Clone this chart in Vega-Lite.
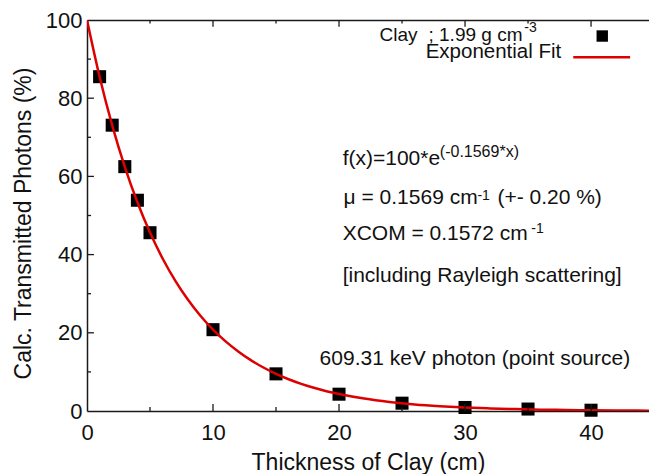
{
  "$schema": "https://vega.github.io/schema/vega-lite/v6.json",
  "width": 562,
  "height": 391,
  "autosize": {"type": "none"},
  "padding": {"left": 87, "top": 20, "right": 0, "bottom": 63},
  "background": "white",
  "config": {
    "view": {"stroke": null},
    "font": "Liberation Sans",
    "axis": {
      "domainColor": "#1a1a1a",
      "domainWidth": 1.5,
      "labelColor": "#111111",
      "titleColor": "#111111",
      "labelFont": "Liberation Sans",
      "titleFont": "Liberation Sans",
      "labelFontSize": 22,
      "titleFontSize": 23,
      "titleFontWeight": "normal",
      "grid": false
    }
  },
  "resolve": {"axis": {"x": "independent", "y": "independent"}},
  "datasets": {
    "fit": [
      {"thickness": 0, "transmitted": 100},
      {"thickness": 1, "transmitted": 85.48},
      {"thickness": 2, "transmitted": 73.07},
      {"thickness": 3, "transmitted": 62.46},
      {"thickness": 4, "transmitted": 53.39},
      {"thickness": 5, "transmitted": 45.63},
      {"thickness": 6, "transmitted": 39.01},
      {"thickness": 7, "transmitted": 33.34},
      {"thickness": 8, "transmitted": 28.5},
      {"thickness": 9, "transmitted": 24.36},
      {"thickness": 10, "transmitted": 20.82},
      {"thickness": 11, "transmitted": 17.8},
      {"thickness": 12, "transmitted": 15.22},
      {"thickness": 13, "transmitted": 13.01},
      {"thickness": 14, "transmitted": 11.12},
      {"thickness": 15, "transmitted": 9.5},
      {"thickness": 16, "transmitted": 8.12},
      {"thickness": 17, "transmitted": 6.94},
      {"thickness": 18, "transmitted": 5.94},
      {"thickness": 19, "transmitted": 5.07},
      {"thickness": 20, "transmitted": 4.34},
      {"thickness": 22, "transmitted": 3.17},
      {"thickness": 24, "transmitted": 2.32},
      {"thickness": 26, "transmitted": 1.69},
      {"thickness": 28, "transmitted": 1.24},
      {"thickness": 30, "transmitted": 0.9},
      {"thickness": 32, "transmitted": 0.66},
      {"thickness": 34, "transmitted": 0.48},
      {"thickness": 36, "transmitted": 0.35},
      {"thickness": 38, "transmitted": 0.26},
      {"thickness": 40, "transmitted": 0.19},
      {"thickness": 42, "transmitted": 0.14},
      {"thickness": 45, "transmitted": 0.09}
    ],
    "measured": [
      {"thickness": 1, "transmitted": 85.5},
      {"thickness": 2, "transmitted": 73.1},
      {"thickness": 3, "transmitted": 62.5},
      {"thickness": 4, "transmitted": 53.9},
      {"thickness": 5, "transmitted": 45.6},
      {"thickness": 10, "transmitted": 20.8},
      {"thickness": 15, "transmitted": 9.5},
      {"thickness": 20, "transmitted": 4.3},
      {"thickness": 25, "transmitted": 2.0},
      {"thickness": 30, "transmitted": 0.9},
      {"thickness": 35, "transmitted": 0.5},
      {"thickness": 40, "transmitted": 0.2}
    ],
    "xMajor": [{"at": 10}, {"at": 20}, {"at": 30}, {"at": 40}],
    "xMinor": [{"at": 5}, {"at": 15}, {"at": 25}, {"at": 35}],
    "yMajor": [{"at": 20}, {"at": 40}, {"at": 60}, {"at": 80}],
    "yMinor": [{"at": 10}, {"at": 30}, {"at": 50}, {"at": 70}, {"at": 90}],
    "annotMain": [
      {"x": 20.29, "y": 62.9, "label": "f(x)=100*e"},
      {"x": 20.36, "y": 52.9, "label": "μ = 0.1569 cm"},
      {"x": 32.57, "y": 52.9, "label": "(+- 0.20 %)"},
      {"x": 20.29, "y": 43.7, "label": "XCOM = 0.1572 cm"},
      {"x": 20.29, "y": 33.0, "label": "[including Rayleigh scattering]"},
      {"x": 18.46, "y": 11.8, "label": "609.31 keV photon (point source)"}
    ],
    "annotSupFormula": [
      {"x": 28.0, "y": 65.0, "label": "(-0.1569*x)"}
    ],
    "annotSupUnit": [
      {"x": 30.98, "y": 54.0, "label": "-1"},
      {"x": 35.26, "y": 45.5, "label": "-1"}
    ],
    "legendText": [
      {"x": 23.22, "y": 94.7, "label": "Clay"},
      {"x": 27.1, "y": 94.7, "label": "; 1.99 g cm"}
    ],
    "legendSup": [
      {"x": 34.7, "y": 97.0, "label": "-3"}
    ],
    "legendFitLabel": [
      {"x": 37.64, "y": 90.4, "label": "Exponential Fit"}
    ],
    "legendSymbol": [
      {"x": 40.89, "y": 95.9}
    ],
    "legendLine": [
      {"x": 38.59, "x2": 43.1, "y": 90.5}
    ]
  },
  "layer": [
    {
      "data": {"name": "measured"},
      "mark": {"type": "point", "shape": "square", "filled": true, "color": "#000000", "size": 170, "opacity": 1},
      "encoding": {
        "x": {
          "field": "thickness", "type": "quantitative",
          "scale": {"domain": [0, 44.6], "nice": false, "zero": false},
          "axis": {
            "orient": "bottom",
            "title": "Thickness of Clay (cm)",
            "titlePadding": 8,
            "values": [0, 10, 20, 30, 40],
            "domain": true,
            "ticks": false,
            "labelFlush": false,
            "labelPadding": 11
          }
        },
        "y": {
          "field": "transmitted", "type": "quantitative",
          "scale": {"domain": [0, 100], "nice": false},
          "axis": {
            "orient": "left",
            "title": "Calc. Transmitted Photons (%)",
            "titlePadding": 10,
            "titleY": 203,
            "values": [0, 20, 40, 60, 80, 100],
            "domain": true,
            "ticks": false,
            "labelFlush": false,
            "labelPadding": 5
          }
        }
      }
    },
    {
      "data": {"name": "fit"},
      "mark": {"type": "line", "color": "#dd0000", "strokeWidth": 2.5, "clip": true, "interpolate": "monotone"},
      "encoding": {
        "x": {
          "field": "thickness", "type": "quantitative",
          "axis": {"orient": "top", "labels": false, "ticks": false, "domain": true, "title": null}
        },
        "y": {"field": "transmitted", "type": "quantitative", "axis": null}
      }
    },
    {
      "data": {"name": "xMajor"},
      "mark": {"type": "rule", "color": "#1a1a1a", "strokeWidth": 1.3},
      "encoding": {
        "x": {"field": "at", "type": "quantitative", "axis": null},
        "y": {"datum": 0, "type": "quantitative", "axis": null},
        "y2": {"datum": 1.8}
      }
    },
    {
      "data": {"name": "xMinor"},
      "mark": {"type": "rule", "color": "#1a1a1a", "strokeWidth": 1.3},
      "encoding": {
        "x": {"field": "at", "type": "quantitative", "axis": null},
        "y": {"datum": 0, "type": "quantitative", "axis": null},
        "y2": {"datum": 1.0}
      }
    },
    {
      "data": {"name": "xMajor"},
      "mark": {"type": "rule", "color": "#1a1a1a", "strokeWidth": 1.3},
      "encoding": {
        "x": {"field": "at", "type": "quantitative", "axis": null},
        "y": {"datum": 100, "type": "quantitative", "axis": null},
        "y2": {"datum": 98.3}
      }
    },
    {
      "data": {"name": "xMinor"},
      "mark": {"type": "rule", "color": "#1a1a1a", "strokeWidth": 1.3},
      "encoding": {
        "x": {"field": "at", "type": "quantitative", "axis": null},
        "y": {"datum": 100, "type": "quantitative", "axis": null},
        "y2": {"datum": 99.1}
      }
    },
    {
      "data": {"name": "yMajor"},
      "mark": {"type": "rule", "color": "#1a1a1a", "strokeWidth": 1.3},
      "encoding": {
        "y": {"field": "at", "type": "quantitative", "axis": null},
        "x": {"datum": 0, "type": "quantitative", "axis": null},
        "x2": {"datum": 0.55}
      }
    },
    {
      "data": {"name": "yMinor"},
      "mark": {"type": "rule", "color": "#1a1a1a", "strokeWidth": 1.3},
      "encoding": {
        "y": {"field": "at", "type": "quantitative", "axis": null},
        "x": {"datum": 0, "type": "quantitative", "axis": null},
        "x2": {"datum": 0.32}
      }
    },
    {
      "data": {"name": "annotMain"},
      "mark": {"type": "text", "align": "left", "baseline": "alphabetic", "fontSize": 21, "color": "#111111"},
      "encoding": {
        "x": {"field": "x", "type": "quantitative", "axis": null},
        "y": {"field": "y", "type": "quantitative", "axis": null},
        "text": {"field": "label"}
      }
    },
    {
      "data": {"name": "annotSupFormula"},
      "mark": {"type": "text", "align": "left", "baseline": "alphabetic", "fontSize": 16, "color": "#111111"},
      "encoding": {
        "x": {"field": "x", "type": "quantitative", "axis": null},
        "y": {"field": "y", "type": "quantitative", "axis": null},
        "text": {"field": "label"}
      }
    },
    {
      "data": {"name": "annotSupUnit"},
      "mark": {"type": "text", "align": "left", "baseline": "alphabetic", "fontSize": 14, "color": "#111111"},
      "encoding": {
        "x": {"field": "x", "type": "quantitative", "axis": null},
        "y": {"field": "y", "type": "quantitative", "axis": null},
        "text": {"field": "label"}
      }
    },
    {
      "data": {"name": "legendText"},
      "mark": {"type": "text", "align": "left", "baseline": "alphabetic", "fontSize": 19, "color": "#111111"},
      "encoding": {
        "x": {"field": "x", "type": "quantitative", "axis": null},
        "y": {"field": "y", "type": "quantitative", "axis": null},
        "text": {"field": "label"}
      }
    },
    {
      "data": {"name": "legendSup"},
      "mark": {"type": "text", "align": "left", "baseline": "alphabetic", "fontSize": 14, "color": "#111111"},
      "encoding": {
        "x": {"field": "x", "type": "quantitative", "axis": null},
        "y": {"field": "y", "type": "quantitative", "axis": null},
        "text": {"field": "label"}
      }
    },
    {
      "data": {"name": "legendFitLabel"},
      "mark": {"type": "text", "align": "right", "baseline": "alphabetic", "fontSize": 20.5, "color": "#111111"},
      "encoding": {
        "x": {"field": "x", "type": "quantitative", "axis": null},
        "y": {"field": "y", "type": "quantitative", "axis": null},
        "text": {"field": "label"}
      }
    },
    {
      "data": {"name": "legendSymbol"},
      "mark": {"type": "point", "shape": "square", "filled": true, "color": "#000000", "size": 130, "opacity": 1},
      "encoding": {
        "x": {"field": "x", "type": "quantitative", "axis": null},
        "y": {"field": "y", "type": "quantitative", "axis": null}
      }
    },
    {
      "data": {"name": "legendLine"},
      "mark": {"type": "rule", "color": "#dd0000", "strokeWidth": 2.5},
      "encoding": {
        "x": {"field": "x", "type": "quantitative", "axis": null},
        "x2": {"field": "x2"},
        "y": {"field": "y", "type": "quantitative", "axis": null}
      }
    }
  ]
}
